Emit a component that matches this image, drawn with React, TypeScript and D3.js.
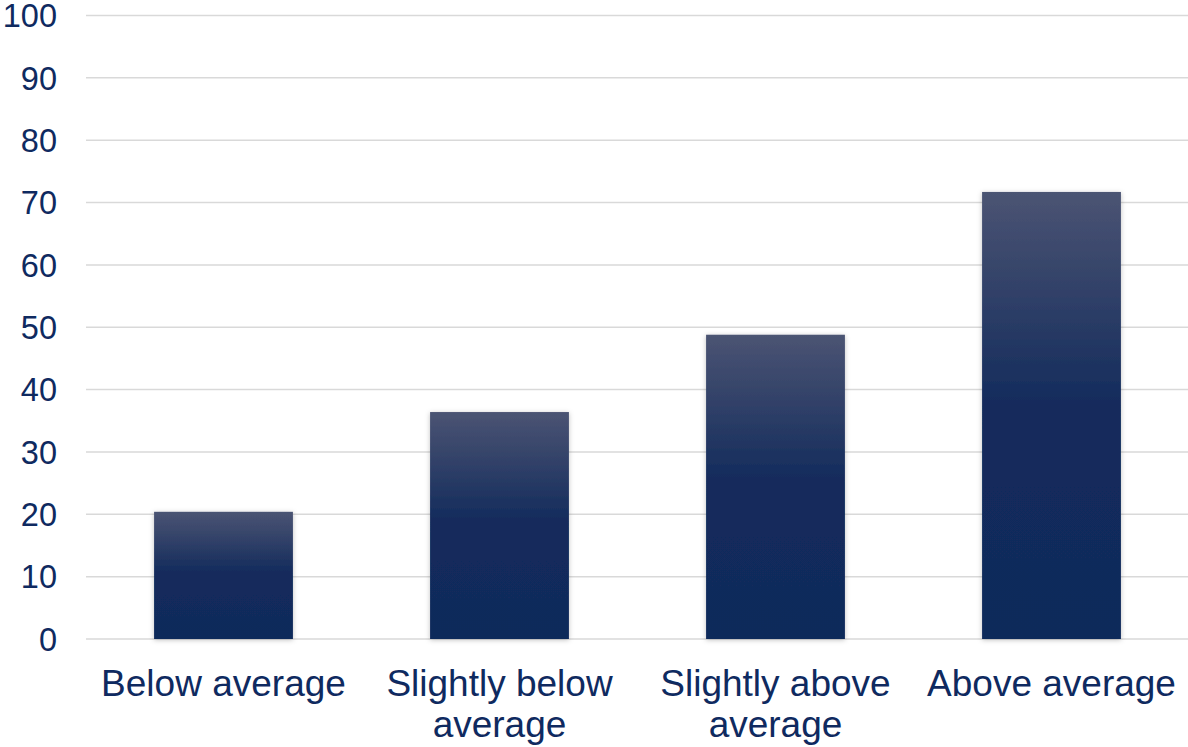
import React from "react";
import * as d3 from "d3";

const categories: string[][] = [
  ["Below average"],
  ["Slightly below", "average"],
  ["Slightly above", "average"],
  ["Above average"],
];
const values: number[] = [20.4, 36.4, 48.8, 71.7];
const yTicks: number[] = [0, 10, 20, 30, 40, 50, 60, 70, 80, 90, 100];

const W = 1188;
const H = 747;

export default function App() {
  const x = d3
    .scaleBand<number>()
    .domain(values.map((_, i) => i))
    .range([85.5, 1189.5])
    .paddingInner(0.497)
    .paddingOuter(0.2485);
  const y = d3.scaleLinear().domain([0, 100]).range([639, 15.5]);
  const textColor = "#0f2a60";
  return (
    <div style={{ position: "absolute", left: 0, top: 0 }}>
      <svg width={W} height={H} style={{ display: "block" }}>
        <defs>
          <linearGradient id="barGrad" x1="0" y1="0" x2="0" y2="1">
            <stop offset="0%" stopColor="#4b5473" />
            <stop offset="48%" stopColor="#132b5c" />
            <stop offset="100%" stopColor="#10295a" />
          </linearGradient>
          <filter id="shadow" x="-10%" y="-10%" width="120%" height="120%">
            <feDropShadow dx="0" dy="1" stdDeviation="2.5" floodColor="#000" floodOpacity="0.25" />
          </filter>
        </defs>
        <rect width={W} height={H} fill="#fff" />
        {yTicks.map((t) => (
          <g key={t}>
            <line x1={86} x2={W} y1={y(t)} y2={y(t)} stroke="#d9d9d9" strokeWidth={1.5} />
            <text
              x={57}
              y={y(t)}
              dy="0.36em"
              textAnchor="end"
              fontFamily="Liberation Sans, Arial, sans-serif"
              fontSize={32.5}
              fill={textColor}
            >
              {t}
            </text>
          </g>
        ))}
        {values.map((v, i) => (
          <rect
            key={i}
            x={x(i)}
            y={y(v)}
            width={x.bandwidth()}
            height={y(0) - y(v)}
            fill="url(#barGrad)"
            filter="url(#shadow)"
          />
        ))}
        {categories.map((lines, i) => (
          <text
            key={i}
            x={(x(i) as number) + x.bandwidth() / 2}
            y={696}
            textAnchor="middle"
            fontFamily="Liberation Sans, Arial, sans-serif"
            fontSize={37}
            fill={textColor}
          >
            {lines.map((l, j) => (
              <tspan key={j} x={(x(i) as number) + x.bandwidth() / 2} dy={j === 0 ? 0 : 41}>
                {l}
              </tspan>
            ))}
          </text>
        ))}
      </svg>
    </div>
  );
}
